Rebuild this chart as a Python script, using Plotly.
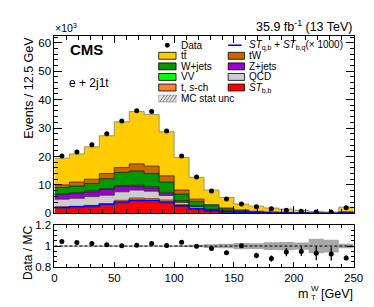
import numpy as np
import plotly.graph_objects as go

W, H = 374, 307
def px(x): return x / W
def py(y): return 1 - y / H

FONT = "Liberation Sans, Arial, sans-serif"

# ---------------- data (thousands of events per 12.5 GeV bin) ----------------
bin_edges = np.arange(0, 262.5, 12.5)
bin_centers = bin_edges[:-1] + 6.25

data = [20.2, 21.6, 24.1, 28.0, 32.5, 36.1, 35.8, 29.0, 20.2, 12.8,
        7.9, 5.1, 3.3, 2.3, 1.6, 1.07, 0.73, 0.5, 0.5, 2.0]

st_bb = [1.8, 2.0, 2.3, 2.9, 3.7, 4.2, 4.1, 3.7, 2.4, 1.3,
         0.7, 0.4, 0.2, 0.1, 0.06, 0.04, 0.03, 0.02, 0.02, 0.05]
t_sch = [0.5, 0.5, 0.5, 0.5, 0.9, 1.2, 1.1, 1.0, 0.7, 0.5,
         0.3, 0.2, 0.12, 0.1, 0.09, 0.06, 0.05, 0.04, 0.03, 0.08]
qcd = [2.7, 2.8, 3.1, 3.0, 3.0, 2.8, 2.6, 1.6, 0.7, 0.5,
       0.3, 0.2, 0.13, 0.1, 0.05, 0.04, 0.02, 0.02, 0.01, 0.05]
zjets = [1.7, 1.7, 1.7, 2.0, 1.9, 1.4, 1.2, 0.8, 0.5, 0.2,
         0.1, 0.05, 0.05, 0.02, 0.02, 0.01, 0.01, 0.0, 0.0, 0.02]
vv = [0.2, 0.3, 0.3, 0.3, 0.3, 0.3, 0.3, 0.3, 0.2, 0.1,
      0.1, 0.05, 0.05, 0.03, 0.02, 0.01, 0.01, 0.01, 0.01, 0.02]
wjets = [2.2, 2.3, 2.6, 3.5, 4.6, 5.0, 4.7, 3.6, 2.3, 1.6,
         1.2, 0.7, 0.45, 0.25, 0.16, 0.12, 0.08, 0.05, 0.03, 0.23]
tw = [0.9, 1.4, 1.5, 1.8, 1.7, 2.5, 2.6, 2.2, 1.4, 0.8,
      0.4, 0.3, 0.2, 0.15, 0.1, 0.07, 0.06, 0.04, 0.03, 0.1]
ttbar = [9.4, 9.9, 11.4, 13.3, 16.1, 18.4, 18.2, 15.5, 11.5, 7.7,
         5.1, 3.7, 2.1, 1.8, 1.4, 1.15, 0.81, 0.52, 0.37, 1.65]
st_qb_x1000 = [2.1, 2.3, 2.6, 3.2, 4.0, 4.6, 4.5, 4.0, 2.7, 1.6,
               0.9, 0.55, 0.3, 0.2, 0.14, 0.1, 0.08, 0.06, 0.05, 0.12]

ratio = [1.045, 1.034, 1.024, 1.012, 1.003, 1.009, 1.024, 1.006, 1.036, 0.997,
         0.976, 0.936, 1.003, 0.909, 0.879, 0.942, 0.948, 0.930, 0.924, 0.885]
ratio_err = [0.004, 0.004, 0.004, 0.004, 0.004, 0.004, 0.004, 0.004, 0.005, 0.007,
             0.010, 0.012, 0.015, 0.026, 0.030, 0.040, 0.045, 0.068, 0.064, 0.023]
mc_unc = [0.006, 0.006, 0.006, 0.006, 0.006, 0.006, 0.006, 0.006, 0.008, 0.012,
          0.018, 0.022, 0.030, 0.028, 0.038, 0.040, 0.035, 0.070, 0.062, 0.022]

stack = [
    ("ST_bb", st_bb, "#ff0000", "#660000"),
    ("t, s-ch", t_sch, "#ff7f27", "#663300"),
    ("QCD", qcd, "#cccccc", "#333333"),
    ("Z+jets", zjets, "#9900cc", "#220033"),
    ("VV", vv, "#00ff00", "#003300"),
    ("W+jets", wjets, "#009900", "#002200"),
    ("tW", tw, "#cc6600", "#331a00"),
    ("ttbar", ttbar, "#ffcc00", "#808080"),
]

def step(v):
    return list(v) + [v[-1]]

fig = go.Figure()
for name, vals, fc, lc in stack:
    fig.add_trace(go.Scatter(
        x=bin_edges, y=step(vals), stackgroup="mc", mode="lines",
        line=dict(shape="hv", color=lc, width=0.8), fillcolor=fc,
        name=name, showlegend=False, xaxis="x", yaxis="y"))

fig.add_trace(go.Scatter(
    x=bin_edges, y=step(st_qb_x1000), mode="lines",
    line=dict(shape="hv", color="#0000ff", width=1.5),
    showlegend=False, xaxis="x", yaxis="y"))

fig.add_trace(go.Scatter(
    x=bin_centers, y=data, mode="markers",
    marker=dict(color="black", size=5), showlegend=False,
    xaxis="x", yaxis="y"))

# ratio panel
lo = [1 - u for u in mc_unc]
hi = [1 + u for u in mc_unc]
fig.add_trace(go.Scatter(x=bin_edges, y=step(lo), mode="lines",
                         line=dict(shape="hv", width=0, color="#a6a6a6"),
                         showlegend=False, xaxis="x2", yaxis="y2"))
fig.add_trace(go.Scatter(x=bin_edges, y=step(hi), mode="lines", fill="tonexty",
                         fillcolor="#a6a6a6",
                         line=dict(shape="hv", width=0, color="#a6a6a6"),
                         showlegend=False, xaxis="x2", yaxis="y2"))
fig.add_trace(go.Scatter(
    x=bin_centers, y=ratio, mode="markers",
    marker=dict(color="black", size=5),
    error_y=dict(type="data", array=ratio_err, width=0, thickness=1.3, color="black"),
    showlegend=False, xaxis="x2", yaxis="y2"))

shapes = []
annotations = []

# dashed unity line
shapes.append(dict(type="line", xref="x2", yref="y2", x0=0, x1=250, y0=1, y1=1,
                   line=dict(color="black", width=1, dash="3px,2px")))

# ---------------- legend (drawn by hand) ----------------
rows = [32.5, 43.5, 54.5, 65.5, 76.5, 88.0]
LX0, LX1, LTX = 153, 171, 174
RX0, RX1, RTX = 225, 242, 244
bh = 3.6

def box(x0, x1, yc, fc):
    shapes.append(dict(type="rect", xref="paper", yref="paper",
                       x0=px(x0), x1=px(x1), y0=py(yc + bh), y1=py(yc - bh),
                       fillcolor=fc, line=dict(color="black", width=0.8)))

def label(x, yc, txt):
    annotations.append(dict(x=px(x), y=py(yc), xref="paper", yref="paper",
                            text=txt, showarrow=False, xanchor="left", yanchor="middle",
                            font=dict(family=FONT, size=10, color="black")))

# Data marker in legend
shapes.append(dict(type="circle", xref="paper", yref="paper",
                   x0=px(159.5), x1=px(164.5), y0=py(rows[0] + 2.5), y1=py(rows[0] - 2.5),
                   fillcolor="black", line=dict(color="black", width=0)))
label(LTX, rows[0], "Data")
box(LX0, LX1, rows[1], "#ffcc00"); label(LTX, rows[1], "tt\u0304")
box(LX0, LX1, rows[2], "#009900"); label(LTX, rows[2], "W+jets")
box(LX0, LX1, rows[3], "#00ff00"); label(LTX, rows[3], "VV")
box(LX0, LX1, rows[4], "#ff7f27"); label(LTX, rows[4], "t, <i>s</i>-ch")
# hatched box
shapes.append(dict(type="rect", xref="paper", yref="paper",
                   x0=px(LX0), x1=px(LX1), y0=py(rows[5] + bh), y1=py(rows[5] - bh),
                   fillcolor="#e6e6e6", line=dict(color="#888888", width=0.6)))
for i in range(5):
    xs = LX0 + 1 + 3.2 * i
    shapes.append(dict(type="line", xref="paper", yref="paper",
                       x0=px(xs), x1=px(xs + 5), y0=py(rows[5] + bh), y1=py(rows[5] - bh),
                       line=dict(color="#666666", width=0.8)))
label(LTX, rows[5], "MC stat unc")

shapes.append(dict(type="line", xref="paper", yref="paper",
                   x0=px(RX0), x1=px(RX1 - 3), y0=py(rows[0]), y1=py(rows[0]),
                   line=dict(color="#0000ff", width=1.5)))
label(RTX, rows[0], "<i>ST</i><sub>q,b</sub> + <i>ST</i><sub>b,q</sub>(\u00d7 1000)")
box(RX0, RX1, rows[1], "#cc6600"); label(RTX, rows[1], "tW")
box(RX0, RX1, rows[2], "#9900cc"); label(RTX, rows[2], "Z+jets")
box(RX0, RX1, rows[3], "#cccccc"); label(RTX, rows[3], "QCD")
box(RX0, RX1, rows[4], "#ff0000"); label(RTX, rows[4], "<i>ST</i><sub>b,b</sub>")

# ---------------- texts ----------------
def text(x, y, txt, size, xanchor="left", yanchor="middle", angle=0):
    annotations.append(dict(x=px(x), y=py(y), xref="paper", yref="paper", text=txt,
                            showarrow=False, xanchor=xanchor, yanchor=yanchor,
                            textangle=angle,
                            font=dict(family=FONT, size=size, color="black")))

text(59, 36.5, "<b>CMS</b>", 15)
text(58, 72, "e + 2j1t", 12)
text(356, 12, "35.9 fb<sup>-1</sup> (13 TeV)", 12.5, xanchor="right")
text(44, 14, "\u00d710<sup>3</sup>", 10.5)
text(9, 22, "Events / 12.5 GeV", 12.5, yanchor="top", angle=-90)
text(9, 249, "Data / MC", 12, angle=-90)
# x-axis title: m with stacked sub/superscript
text(356, 291, "[GeV]", 12.5, xanchor="right")
text(309.5, 291, "m", 12.5, xanchor="right")
text(308.5, 286, "W", 8)
text(308.5, 295, "T", 8)

axis_common = dict(showgrid=False, zeroline=False, showline=True, linecolor="black",
                   linewidth=1, mirror="ticks", ticks="inside", tickcolor="black",
                   tickfont=dict(family=FONT, size=11.5, color="black"))

fig.update_layout(
    width=W, height=H, margin=dict(l=0, r=0, t=0, b=0),
    paper_bgcolor="white", plot_bgcolor="white", showlegend=False,
    font=dict(family=FONT),
    xaxis=dict(domain=[px(45), px(355)], range=[0, 250], anchor="y",
               showticklabels=False, dtick=50, tick0=0, ticklen=7,
               minor=dict(ticks="inside", ticklen=4, dtick=10, tickcolor="black"),
               **axis_common),
    yaxis=dict(domain=[py(207.5), py(22.5)], range=[0, 62.5], anchor="x",
               dtick=10, tick0=0, ticklen=8,
               minor=dict(ticks="inside", ticklen=4, dtick=2, tickcolor="black"),
               **axis_common),
    xaxis2=dict(domain=[px(45), px(355)], range=[0, 250], anchor="y2",
                dtick=50, tick0=0, ticklen=5,
                minor=dict(ticks="inside", ticklen=3, dtick=10, tickcolor="black"),
                **axis_common),
    yaxis2=dict(domain=[py(263), py(220)], range=[0.8, 1.2], anchor="x2",
                tickvals=[0.8, 1.0, 1.2], ticktext=["0.8", "1", "1.2"], ticklen=7,
                minor=dict(ticks="inside", ticklen=3, dtick=0.05, tickcolor="black"),
                **axis_common),
    shapes=shapes, annotations=annotations,
)

fig.write_html("out.html")
